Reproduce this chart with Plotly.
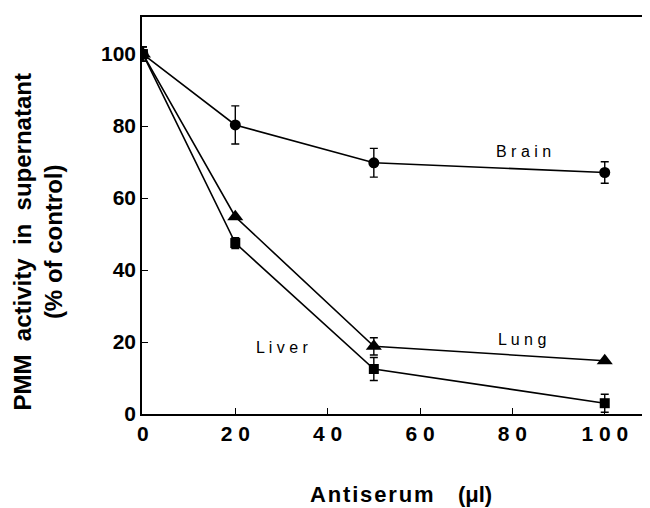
import plotly.graph_objects as go

antiserum = [0, 20, 50, 100]
brain = [100, 80.3, 69.8, 67.1]
brain_err = [2, 5.3, 4, 3]
lung = [100, 54.8, 18.8, 14.8]
lung_err = [2, 0, 2.4, 0]
liver = [100, 47.5, 12.5, 3.0]
liver_err = [2, 1.5, 3.2, 2.5]

x_ticks = [0, 20, 40, 60, 80, 100]
x_ticktext = ["0", "2 0", "4 0", "6 0", "8 0", "1 0 0"]
y_ticks = [0, 20, 40, 60, 80, 100]

FONT = "Liberation Sans, Arial, sans-serif"

fig = go.Figure()

def add_series(y, err, symbol, size):
    fig.add_trace(go.Scatter(
        x=antiserum, y=y, mode="lines+markers",
        line=dict(color="black", width=1.6),
        marker=dict(symbol=symbol, size=size, color="black"),
        error_y=dict(type="data", array=err, visible=True, color="black",
                     thickness=1.4, width=4),
        showlegend=False,
    ))

add_series(brain, brain_err, "circle", 11)
add_series(lung, lung_err, "triangle-up", 14)
add_series(liver, liver_err, "square", 10)

def spaced(s):
    return " ".join(s)

labels = [("Brain", 82.5, 72.8), ("Lung", 82.0, 20.6), ("Liver", 30.3, 18.6)]
for txt, lx, ly in labels:
    fig.add_annotation(x=lx, y=ly, text=spaced(txt), showarrow=False,
                       font=dict(family=FONT, size=16, color="black"),
                       xanchor="center", yanchor="middle")

fig.add_annotation(xref="paper", yref="paper", x=0.5, y=0, yshift=-80,
                   xshift=5,
                   text="\u200a".join("Antiserum") + "\u00a0\u00a0\u00a0\u00a0(\u03bcl)",
                   showarrow=False, xanchor="center", yanchor="middle",
                   font=dict(family=FONT, size=22, color="black", weight="bold"))

g1 = "\u00a0" * 2
g2 = "\u00a0" * 1
fig.add_annotation(xref="paper", yref="paper", x=0, xshift=-104, y=0.432,
                   text=f"PMM{g1}activity{g1}in{g1}supernatant<br>(%{g2}of{g2}control)",
                   textangle=-90, showarrow=False, xanchor="center", yanchor="middle",
                   font=dict(family=FONT, size=24, color="black", weight="bold"))

fig.update_layout(
    width=642, height=500,
    margin=dict(l=134, r=0, t=9, b=94),
    paper_bgcolor="white", plot_bgcolor="white",
    font=dict(family=FONT, color="black"),
    xaxis=dict(range=[-0.2, 109.8], tickvals=x_ticks, ticktext=x_ticktext,
               ticks="inside", ticklen=6, tickwidth=1.3, tickcolor="black",
               showline=True, linecolor="black", linewidth=1.6, mirror=True,
               showgrid=False, zeroline=False,
               tickfont=dict(family=FONT, size=21, color="black", weight="bold")),
    yaxis=dict(range=[0, 110.3], tickvals=y_ticks,
               ticks="inside", ticklen=6, tickwidth=1.3, tickcolor="black",
               showline=True, linecolor="black", linewidth=1.6,
               showgrid=False, zeroline=False,
               tickfont=dict(family=FONT, size=21, color="black", weight="bold")),
)

fig.write_html("out.html")
